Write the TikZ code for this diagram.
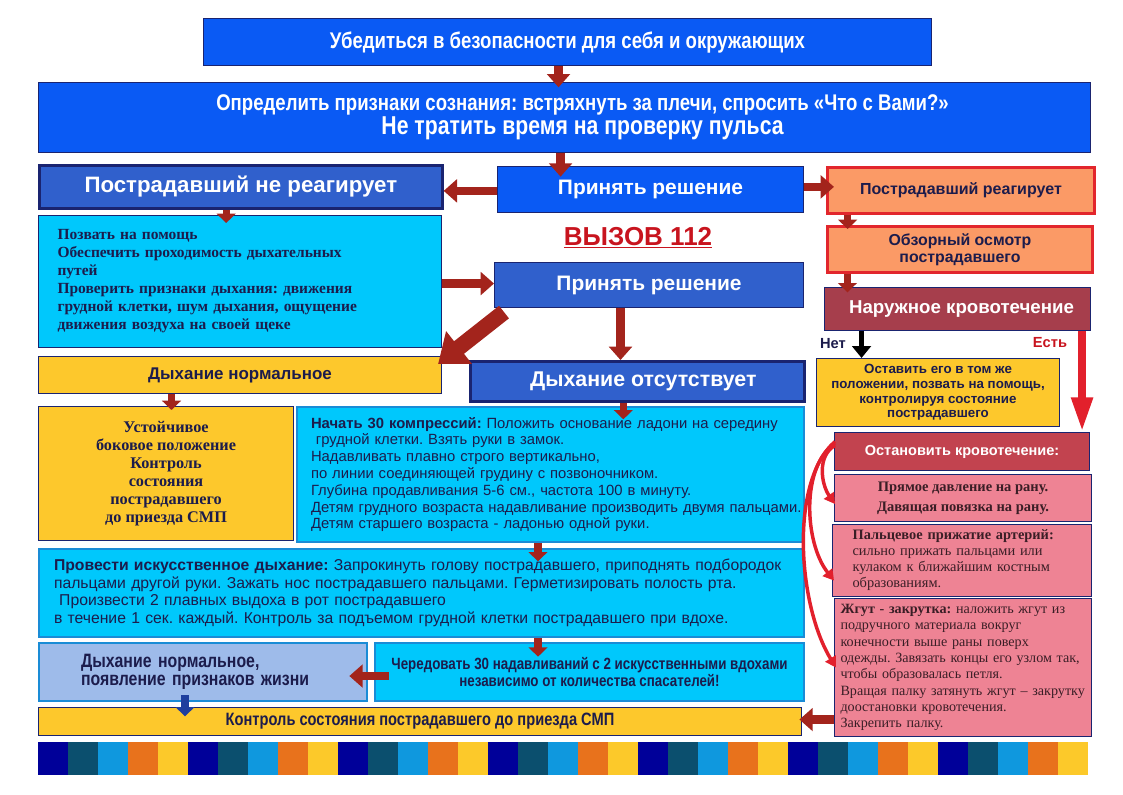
\documentclass[tikz,border=0pt]{standalone}
\usepackage{fontspec}
\setmainfont{Liberation Serif}
\setsansfont{Liberation Sans}
\newfontfamily\narrowsf[FakeStretch=0.82]{Liberation Sans}
\usetikzlibrary{arrows.meta}

\definecolor{brightblue}{HTML}{0A5AF4}
\definecolor{midblue}{HTML}{3060CC}
\definecolor{navyline}{HTML}{1A2470}
\definecolor{cyanbox}{HTML}{00C8FC}
\definecolor{cyanline}{HTML}{1A8CD6}
\definecolor{yellowbox}{HTML}{FDC82C}
\definecolor{salmon}{HTML}{FB9A66}
\definecolor{redline}{HTML}{E2262C}
\definecolor{bleedbox}{HTML}{A63E4C}
\definecolor{stopbox}{HTML}{C2434F}
\definecolor{pinkbox}{HTML}{EE8394}
\definecolor{lightbluebox}{HTML}{9EBBEA}
\definecolor{arrowred}{HTML}{A3241C}
\definecolor{brightred}{HTML}{E2202C}
\definecolor{inkblue}{HTML}{1C1C4C}
\definecolor{inkbrown}{HTML}{3A1E26}
\definecolor{callred}{HTML}{C8141E}
\definecolor{downblue}{HTML}{1F3F9E}
\definecolor{stripeA}{HTML}{000099}
\definecolor{stripeB}{HTML}{0B4F6E}
\definecolor{stripeC}{HTML}{0F98DE}
\definecolor{stripeD}{HTML}{E8721C}
\definecolor{stripeE}{HTML}{FCC92A}

\newcommand{\setfs}[2]{\fontsize{#1}{#2}\selectfont}
\frenchspacing

\tikzset{
  wh/.style 2 args={minimum width=#1*0.75pt, minimum height=#2*0.75pt},
  tw/.style={text width=#1*0.75pt},
  card/.style={draw=navyline, line width=0.8pt, inner sep=0pt, anchor=north west,
    align=center, font=\sffamily\bfseries},
  fat/.style={draw=arrowred, line width=6.5pt, -{Triangle[width=17pt,length=10pt]}},
  stub/.style={draw=arrowred, line width=5.5pt, -{Triangle[width=14pt,length=7pt]}},
  swoosh/.style={draw=brightred, line width=2.6pt, -{Triangle[width=9pt,length=8pt]}}
}

\begin{document}
\begin{tikzpicture}[x=0.75pt,y=-0.75pt]
\useasboundingbox (0,0) rectangle (1123,794);
% ---------- top ----------
\node[card, fill=brightblue, text=white, wh={728}{47}] (safety) at (203,18)
  {\narrowsf\bfseries\setfs{17}{20}Убедиться в безопасности для себя и окружающих};
\node[card, fill=brightblue, text=white, wh={1052}{70}] (consc) at (38,82)
  {\narrowsf\bfseries\setfs{17}{19}\hspace*{27pt}Определить признаки сознания: встряхнуть за плечи, спросить «Что с Вами?»\\
   {\narrowsf\bfseries\setfs{19.4}{20}\hspace*{27pt}Не тратить время на проверку пульса}};
\node[card, fill=brightblue, text=white, wh={306}{46}] (dec1) at (497,166)
  {\setfs{15.7}{18}Принять решение};
\node[card, fill=midblue, draw=navyline, line width=2pt, text=white, wh={403}{43}] (noresp) at (38,164)
  {\setfs{16.7}{19}Пострадавший не реагирует};
\node[card, fill=salmon, draw=redline, line width=2.2pt, text=inkblue, wh={267}{46}] (resp) at (826,166)
  {\setfs{12}{14}Пострадавший реагирует};
% ---------- left column ----------
\node[card, fill=cyanbox, text=inkblue, wh={403}{132}, tw={365}, inner xsep=19*0.75pt, align=left,
  font=\rmfamily\bfseries\setfs{11.6}{13.5}] (callbox) at (38,215)
  {Позвать на помощь\\Обеспечить проходимость дыхательных\\путей\\Проверить признаки дыхания: движения\\
   грудной клетки, шум дыхания, ощущение\\движения воздуха на своей щеке};
\node[text=callred, font=\sffamily\bfseries\setfs{19.5}{22}] (call) at (638,238) {\underline{ВЫЗОВ 112}};
\node[card, fill=midblue, text=white, wh={309}{45}] (dec2) at (494,262)
  {\setfs{15.7}{18}Принять решение};
\node[card, fill=yellowbox, text=inkblue, wh={403}{37}] (okbreath) at (38,356)
  {\setfs{12.7}{15}Дыхание нормальное};
\node[card, fill=midblue, line width=2pt, text=white, wh={334}{40}] (absent) at (469,360)
  {\setfs{16}{18}\hspace*{9pt}Дыхание отсутствует};
\node[card, fill=yellowbox, text=inkblue, wh={255}{134}, font=\rmfamily\bfseries\setfs{12.2}{13.5}] (recovery) at (38,406)
  {Устойчивое\\боковое положение\\Контроль\\состояния\\пострадавшего\\до приезда СМП};
\node[card, fill=cyanbox, draw=cyanline, line width=1.5pt, text=inkblue, wh={507}{135}, tw={479},
  inner xsep=14*0.75pt, align=left, font=\sffamily\setfs{11.1}{12.6}] (compress) at (296,406)
  {\textbf{Начать 30 компрессий:} Положить основание ладони на середину\\
   \ грудной клетки. Взять руки в замок.\\Надавливать плавно строго вертикально,\\
   по линии соединяющей грудину с позвоночником.\\Глубина продавливания 5-6 см., частота 100 в минуту.\\
   \mbox{Детям грудного возраста надавливание производить двумя пальцами.}\\Детям старшего возраста - ладонью одной руки.};
\node[card, fill=cyanbox, draw=cyanline, line width=1.5pt, text=inkblue, wh={765}{88}, tw={735},
  inner xsep=15*0.75pt, align=left, font=\sffamily\setfs{11.8}{13.1}] (ventil) at (38,548)
  {\mbox{\textbf{Провести искусственное дыхание:} Запрокинуть голову пострадавшего, приподнять подбородок}\\
   пальцами другой руки. Зажать нос пострадавшего пальцами. Герметизировать полость рта.\\
   \ Произвести 2 плавных выдоха в рот пострадавшего\\
   в течение 1 сек. каждый. Контроль за подъемом грудной клетки пострадавшего при вдохе.};
\node[card, fill=lightbluebox, draw=cyanline, line width=1.5pt, text=inkblue, wh={328}{58}, tw={244},
  inner xsep=42*0.75pt, align=left, font=\narrowsf\bfseries\setfs{14.5}{14}] (signs) at (38,642)
  {Дыхание нормальное,\\появление признаков жизни};
\node[card, fill=cyanbox, draw=cyanline, line width=1.5pt, text=inkblue, wh={429}{58},
  font=\narrowsf\bfseries\setfs{12.2}{12.5}] (alternate) at (374,642)
  {Чередовать 30 надавливаний с 2 искусственными вдохами\\независимо от количества спасателей!};
\node[card, fill=yellowbox, text=inkblue, wh={763}{28}, font=\narrowsf\bfseries\setfs{13.4}{15}] (control) at (38,707)
  {Контроль состояния пострадавшего до приезда СМП};
% ---------- right column ----------
\node[card, fill=salmon, draw=redline, line width=2.2pt, text=inkblue, wh={265}{46},
  font=\sffamily\bfseries\setfs{11.9}{13}] (survey) at (826,225)
  {Обзорный осмотр\\пострадавшего};
\node[card, fill=bleedbox, text=white, wh={266}{43}] (bleed) at (824,287)
  {\setfs{14}{16}\hspace*{6pt}Наружное кровотечение};
\node[card, fill=yellowbox, text=inkblue, wh={243}{68}, font=\sffamily\bfseries\setfs{10}{11}] (leave) at (816,358)
  {Оставить его в том же\\положении, позвать на помощь,\\контролируя состояние\\пострадавшего};
\node[card, fill=stopbox, text=white, wh={255}{38}] (stop) at (834,432)
  {\setfs{10.9}{13}Остановить кровотечение:};
\node[card, fill=pinkbox, text=inkbrown, wh={257}{47}, font=\rmfamily\bfseries\setfs{10.9}{15}] (pressure) at (834,474)
  {Прямое давление на рану.\\Давящая повязка на рану.};
\node[card, fill=pinkbox, text=inkbrown, wh={259}{72}, tw={219}, inner xsep=20*0.75pt, align=left,
  font=\rmfamily\setfs{10.8}{12}] (finger) at (832,524)
  {\textbf{Пальцевое прижатие артерий:}\\сильно прижать пальцами или\\кулаком к ближайшим костным\\образованиям.};
\node[card, fill=pinkbox, text=inkbrown, wh={257}{138}, tw={245}, inner xsep=6*0.75pt, align=left,
  font=\rmfamily\setfs{10.6}{12.2}] (tourniquet) at (834,598)
  {\textbf{Жгут - закрутка:} наложить жгут из\\подручного материала вокруг\\конечности выше раны поверх\\
   \mbox{одежды. Завязать концы его узлом так,}\\чтобы образовалась петля.\\\mbox{Вращая палку затянуть жгут – закрутку}\\
   доостановки кровотечения.\\Закрепить палку.};
\node[text=inkblue, font=\sffamily\bfseries\setfs{11}{13}] (no) at (833,344) {Нет};
\node[text=callred, font=\sffamily\bfseries\setfs{11}{13}] (yes) at (1050,343) {Есть};
% ---------- connectors ----------
\draw[fat, shorten >=-4pt] ([xshift=-6.75pt]safety.south) -- ([xshift=-6.75pt]safety.south |- consc.north);
\draw[fat, shorten >=-8pt] ([xshift=-3pt]consc.south) -- ([xshift=-3pt]consc.south |- dec1.north);
\draw[fat] ([yshift=-1pt]dec1.west) -- ([yshift=-1pt]dec1.west -| noresp.east);
\draw[fat, shorten >=-6pt] ([yshift=2pt]dec1.east) -- ([yshift=2pt]dec1.east -| resp.west);
\draw[stub, shorten >=-6pt] ([xshift=-11pt]noresp.south) -- ([xshift=-11pt]noresp.south |- callbox.north);
\draw[fat] ([yshift=-1.5pt]callbox.east) -- ([yshift=-1.5pt]callbox.east -| dec2.west);
\draw[draw=arrowred, line width=12pt, -{Triangle[width=30pt,length=20pt]}]
  ([shift={(10,4)}]dec2.south west) -- ([shift={(-4,8)}]okbreath.north east);
\draw[fat] ([xshift=-21.4pt]dec2.south) -- ([xshift=-21.4pt]dec2.south |- absent.north);
\draw[stub, shorten >=-3pt] ([xshift=-51.4pt]okbreath.south) -- ([xshift=-51.4pt]okbreath.south |- recovery.north);
\draw[stub, shorten >=-10pt] ([xshift=-10.5pt]absent.south) -- ([xshift=-10.5pt]absent.south |- compress.north);
\draw[stub, shorten >=-10pt] ([xshift=-9.4pt]compress.south) -- ([xshift=-9.4pt]compress.south |- ventil.north);
\draw[stub, shorten >=-11pt] ([xshift=87.4pt]ventil.south) -- ([xshift=87.4pt]ventil.south |- alternate.north);
\draw[fat, shorten <=-11pt, shorten >=-14pt] ([yshift=-3pt]alternate.west) -- ([yshift=-3pt]signs.east);
\draw[stub, draw=downblue, shorten <=-5pt, shorten >=-7pt] ([xshift=-13.5pt]signs.south) -- ([xshift=-13.5pt]signs.south |- control.north);
\draw[fat, shorten >=-2pt] ([yshift=-39pt]tourniquet.west) -- ([yshift=-39pt]tourniquet.west -| control.east);
\draw[stub, shorten >=-3pt] ([xshift=-85pt]resp.south) -- ([xshift=-85pt]resp.south |- survey.north);
\draw[stub, shorten >=-4pt] ([xshift=-84.4pt]survey.south) -- ([xshift=-84.4pt]survey.south |- bleed.north);
\draw[draw=black, line width=4pt, -{Triangle[width=14pt,length=9pt]}]
  ([xshift=-72pt]bleed.south) -- ([xshift=-72pt]bleed.south |- leave.north);
\draw[draw=brightred, line width=6pt, -{Triangle[width=15pt,length=26pt]}]
  ([xshift=-6.75pt]bleed.south east) -- ([xshift=-6.75pt]bleed.south east |- stop.north);
% curved arrows from the stop box
\draw[swoosh] ([shift={(1,-6)}]stop.west) .. controls +(-18,10) and +(-14,-20) .. ([shift={(1,6)}]pressure.west);
\draw[swoosh] ([shift={(1,-8)}]stop.west) .. controls +(-34,22) and +(-30,-38) .. ([shift={(2,20)}]finger.west);
\draw[swoosh] ([shift={(1,-10)}]stop.west) .. controls +(-46,40) and +(-38,-62) .. ([shift={(2,0)}]tourniquet.west);
% ---------- stripe ----------
\foreach \p in {0,...,6}
  \foreach \c [count=\j from 0] in {stripeA,stripeB,stripeC,stripeD,stripeE}
    \fill[\c] (38+150*\p+30*\j,742) rectangle ++(30,33);
\end{tikzpicture}
\end{document}
